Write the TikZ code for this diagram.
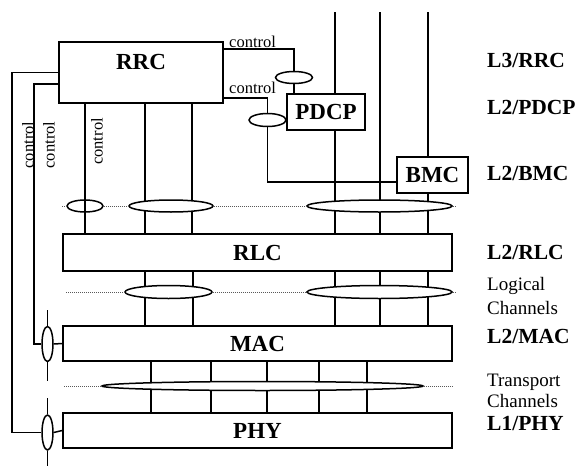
\documentclass[tikz,border=0pt]{standalone}
\usepackage{fontspec}
\setmainfont{Liberation Serif}
\usetikzlibrary{shapes.geometric}

\tikzset{
  box/.style={draw, line width=1.6pt, inner sep=0pt, font=\fontsize{23}{25}\selectfont\bfseries},
  boxtext/.style={inner sep=0pt, font=\fontsize{23}{25}\selectfont\bfseries},
  chan/.style={draw, ellipse, fill=white, line width=1.5pt, inner sep=0pt},
  sap/.style={draw, ellipse, line width=1.5pt, inner sep=0pt},
  wire/.style={line width=1.5pt},
  dots/.style={densely dotted, line width=1pt, black!65},
  ctrl/.style={inner sep=0pt, font=\fontsize{16.5}{18}\selectfont},
  tag/.style={anchor=base west, inner sep=0pt, font=\fontsize{21.5}{24}\selectfont\bfseries},
  note/.style={anchor=base west, inner sep=0pt, align=left},
}

\begin{document}
\begin{tikzpicture}[x=1pt,y=-1pt]
  \useasboundingbox (0,0) rectangle (584,466);
  % Common dimensions
  \def\W{389}   % width of the layer boxes
  \def\Xc{257.5} % their centre
  \def\Xt{487}  % left edge of the layer names

  % ---- Layer boxes ----
  \node[box, minimum width=164pt, minimum height=61pt] (rrc) at (141,72.5) {};
  \node[boxtext, anchor=north] (rrcname) at ([yshift=-13pt]rrc.north) {RRC};
  \node[box, minimum width=78pt, minimum height=36pt] (pdcp) at (326,112) {PDCP};
  \node[box, minimum width=71pt, minimum height=36pt] (bmc) at (432.5,175) {BMC};
  \node[box, minimum width=\W pt, minimum height=37pt] (rlc) at (\Xc,252.5) {RLC};
  \node[box, minimum width=\W pt, minimum height=35pt] (mac) at (\Xc,343.5) {MAC};
  \node[box, minimum width=\W pt, minimum height=35pt] (phy) at (\Xc,430.5) {PHY};

  % ---- User plane lines ----
  \coordinate (ta) at (335,12);
  \coordinate (tb) at (380,12);
  \coordinate (tc) at (428,12);
  \draw[wire] (ta) -- (ta |- pdcp.north);
  \draw[wire] (ta |- pdcp.south) -- (ta |- rlc.north);
  \draw[wire] (tb) -- (tb |- rlc.north);
  \draw[wire] (tc) -- (tc |- bmc.north);
  \draw[wire] (tc |- bmc.south) -- (tc |- rlc.north);
  \foreach \x in {85,145,192}
    \draw[wire] (rrc.south -| \x,0) -- (rlc.north -| \x,0);
  \foreach \x in {145,193,335,380,428}
    \draw[wire] (rlc.south -| \x,0) -- (mac.north -| \x,0);
  \foreach \x in {151,211,267,319,367}
    \draw[wire] (mac.south -| \x,0) -- (phy.north -| \x,0);

  % ---- Service access points ----
  \node[sap, minimum width=36pt, minimum height=12pt] (r1) at (85,206) {};
  \node[chan, minimum width=84pt, minimum height=12pt] (r2) at (171,206) {};
  \node[chan, minimum width=145pt, minimum height=12pt] (r3) at (379.5,206) {};
  \node[chan, minimum width=87pt, minimum height=13pt] (l1) at (168.5,292) {};
  \node[chan, minimum width=145pt, minimum height=13pt] (l2) at (379.5,292) {};
  \node[chan, minimum width=321pt, minimum height=9pt] (t1) at (262.5,386) {};
  \node[chan, minimum width=37pt, minimum height=12pt] (e1) at (294,77.5) {};
  \node[chan, minimum width=37pt, minimum height=13pt] (e2) at (267.5,120) {};
  \node[chan, minimum width=11pt, minimum height=35pt] (v1) at (47.5,344) {};
  \node[chan, minimum width=11pt, minimum height=35pt] (v2) at (47.5,432.5) {};

  % Dotted boundaries
  \draw[dots] (r1 -| rlc.west) -- (r1.west);
  \draw[dots] (r1.east) -- (r2.west);
  \draw[dots] (r2.east) -- (r3.west);
  \draw[dots] (r3.east) -- ([xshift=3pt]r3 -| rlc.east);
  \draw[dots] ([xshift=4pt]l1 -| rlc.west) -- (l1.west);
  \draw[dots] (l1.east) -- (l2.west);
  \draw[dots] (l2.east) -- ([xshift=3pt]l2 -| rlc.east);
  \draw[dots] ([xshift=2pt]t1 -| mac.west) -- (t1.west);
  \draw[dots] (t1.east) -- (t1 -| mac.east);

  % ---- Control connections ----
  \draw[wire] ([yshift=-8pt]rrc.north east) -| (e1.north);
  \draw[wire] (e1.south) -- (e1.south |- pdcp.north);
  \draw[wire] ([yshift=6pt]rrc.south east) -| (e2.north);
  \draw[wire] (e2.south) |- ([yshift=-7pt]bmc.west);
  \draw[wire] (rrc.west) -- ++(-46,0) |- (v2.west);
  \draw[wire] ([yshift=-11.5pt]rrc.west) -- ++(-24,0) |- (v1.west);
  \draw[wire] (v1.east) -- (mac.west);
  \draw[wire] (v2.east) -- (phy.west);
  \draw[wire] (v1.north) -- ++(0,-16);
  \draw[wire] (v1.south) -- ++(0,19);
  \draw[wire] (v2.north) -- ++(0,-16);
  \draw[wire] (v2.south) -- ++(0,17);

  \node[ctrl, anchor=base west] (ctop) at (229,47.5) {control};
  \node[ctrl, anchor=base west] (cmid) at (229,93.5) {control};
  \node[ctrl, rotate=90] (cphy) at (28,145) {control};
  \node[ctrl, rotate=90] (cmac) at (49,145) {control};
  \node[ctrl, rotate=90] (crlc) at (97,141.5) {control};

  % ---- Layer names ----
  \node[tag] (nrrc) at (\Xt,67) {L3/RRC};
  \node[tag] (npdcp) at (\Xt,114) {L2/PDCP};
  \node[tag] (nbmc) at (\Xt,180) {L2/BMC};
  \node[tag] (nrlc) at (\Xt,259.5) {L2/RLC};
  \node[note, font=\fontsize{19}{24}\selectfont] (nlog) at (\Xt,314) {Logical\\Channels};
  \node[tag] (nmac) at (\Xt,343) {L2/MAC};
  \node[note, font=\fontsize{19}{20.5}\selectfont] (ntr) at (\Xt,407) {Transport\\Channels};
  \node[tag] (nphy) at (\Xt,430) {L1/PHY};
\end{tikzpicture}
\end{document}
